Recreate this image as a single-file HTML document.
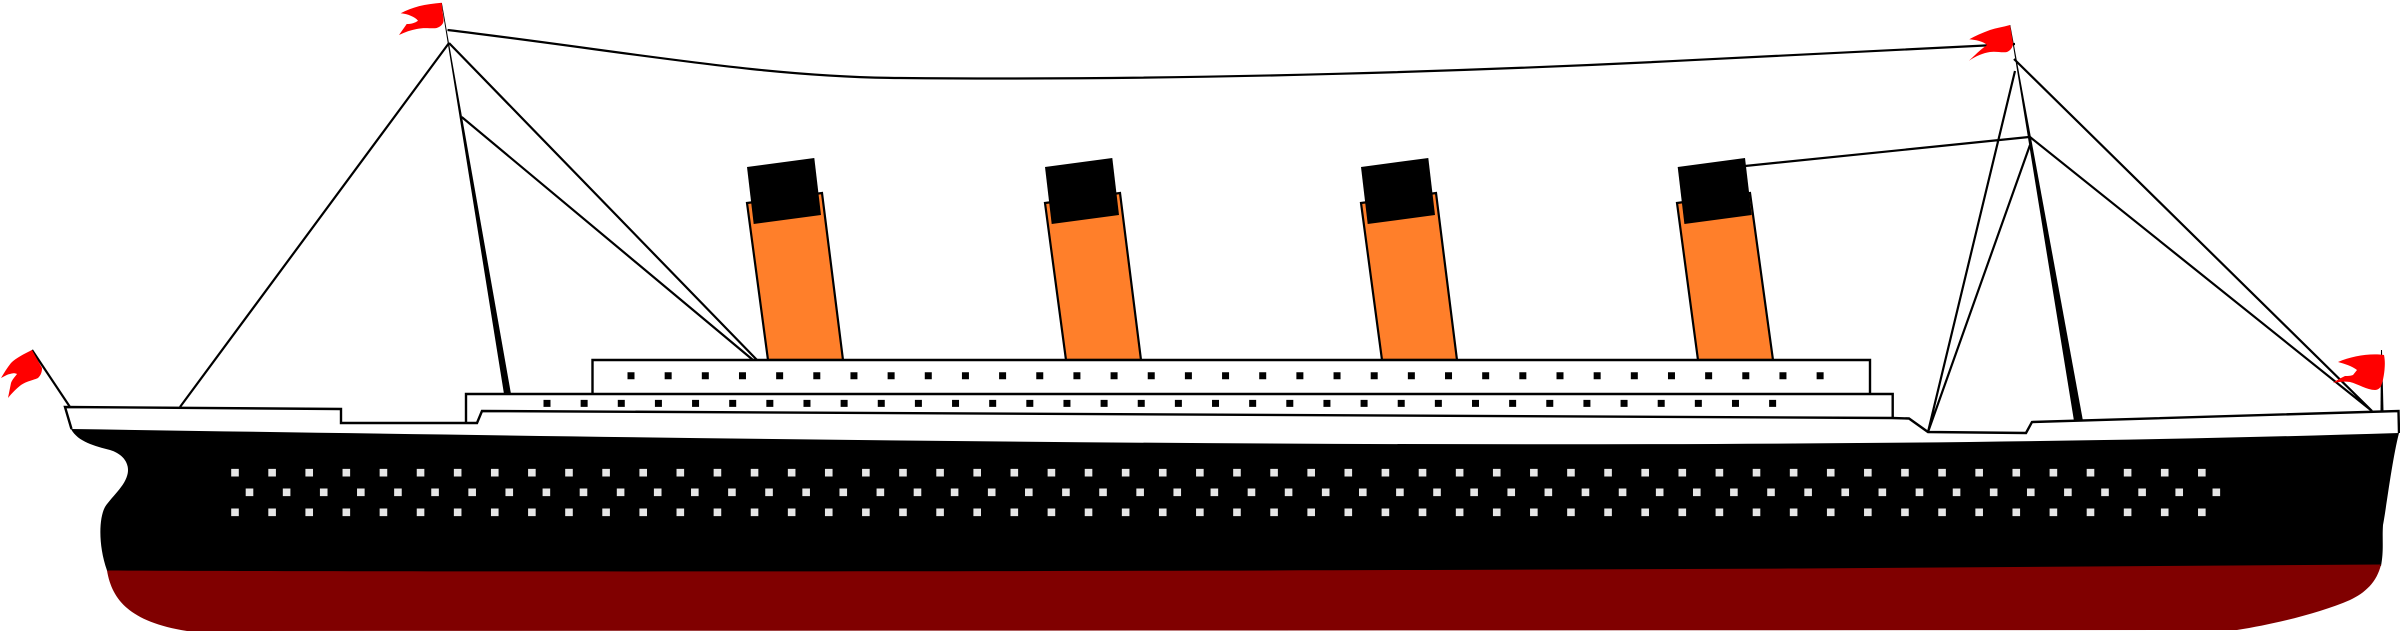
<!DOCTYPE html>
<html>
<head>
<meta charset="utf-8">
<title>Ship</title>
<style>
html,body{margin:0;padding:0;background:#fff}
svg{display:block}
</style>
</head>
<body>
<svg xmlns="http://www.w3.org/2000/svg" width="2400" height="631" viewBox="0 0 2400 631">
<rect width="2400" height="631" fill="#fff"/>

<!-- top wire -->
<path d="M447.5,30 C630,52 760,77 900,78 C1200,81 1500,70 1700,59.7 L2015,44" fill="none" stroke="#000" stroke-width="2.2"/>

<!-- aft mast and stays -->
<polygon points="441.3,3 441.9,3 511,394 504,394" fill="#000"/>
<path d="M449,43 L180,407 M449,43 L757,360 M461.7,117 L753,360" fill="none" stroke="#000" stroke-width="2.2"/>

<!-- fore mast and stays -->
<polygon points="2009.7,25 2010.3,25 2083,421 2074,421" fill="#000"/>
<path d="M1745,166 L2029,137 M2014,59 L2372,411 M2030,137 L2372,411 M2015,71 L1928,432 M2030,145 L1928,432" fill="none" stroke="#000" stroke-width="2.2"/>

<!-- bow pole -->
<polygon points="2381,350 2382,350 2383.5,411 2380.5,411" fill="#000"/>
<!-- stern pole -->
<path d="M32,350 L70,407" fill="none" stroke="#000" stroke-width="2.2"/>

<!-- funnels -->
<g fill="#ff7f2a" stroke="#000" stroke-width="2.2">
<polygon points="747,203 822,193 843,360 768,360"/>
<polygon points="1045,203 1120,193 1141,360 1066,360"/>
<polygon points="1361,203 1436,193 1457,360 1382,360"/>
<polygon points="1677,203 1750,193 1773,360 1698,360"/>
</g>
<g fill="#000">
<polygon points="747,167 814.3,158 821,215 753.7,224"/>
<polygon points="1045,167 1112.3,158 1119,215 1051.7,224"/>
<polygon points="1361,167 1428.3,158 1435,215 1367.7,224"/>
<polygon points="1677.7,167 1745,158 1751.7,215 1684.4,224"/>
</g>

<!-- superstructure -->
<path d="M592.5,394 L592.5,360 L1870,360 L1870,394" fill="#fff" stroke="#000" stroke-width="2.4"/>
<path d="M466,423 L466,394 L1892.7,394 L1892.7,418" fill="#fff" stroke="#000" stroke-width="2.4"/>
<line x1="627.5" y1="375.7" x2="1825" y2="375.7" stroke="#000" stroke-width="7" stroke-dasharray="7 30.16"/>
<line x1="543.5" y1="403.4" x2="1780" y2="403.4" stroke="#000" stroke-width="7" stroke-dasharray="7 30.14"/>

<!-- main deck strip -->
<path d="M71.5,429 L65,407 L341,409 L341,423 L477,423 L482,411 L1892,418 L1909,418.5 L1928,432 L2026,433 L2032,422 L2398.5,411 L2399,433" fill="#fff" stroke="#000" stroke-width="2.4" stroke-linejoin="miter"/>

<!-- hull -->
<path d="M71,429 C800,440 1700,455 2399,433 C2392,460 2386,510 2383,525 C2382,540 2384,550 2381,566 L2300,600 L150,600 L107,570.5 C98,545 99,518 105,507 C112,496 128,484 128,470 C128,460 120,453 110,450 C95,446 78,442 71,429 Z" fill="#000"/>
<path d="M107,570.5 C500,572 1000,572 1800,568.5 L2381,564.5 C2377,582 2365,593 2350,600 C2320,613 2275,624 2237,630 L187,631 C130,622 112,600 107,570.5 Z" fill="#800000"/>

<!-- hull windows -->
<g stroke="#e6e6e6" stroke-width="7.6" stroke-dasharray="7.6 29.51">
<line x1="231.2" y1="472.7" x2="2207" y2="472.7"/>
<line x1="245.7" y1="492.3" x2="2222" y2="492.3"/>
<line x1="231.2" y1="512.3" x2="2207" y2="512.3"/>
</g>

<!-- flags -->
<g fill="#f00">
<path d="M441.7,2.7 C425,4 412,7 400.7,13.3 C408,14 415,17 418,20.7 C415,23 411,24 406.7,24 C404,28 401,32 399,35 C405,32 411,30 416.7,29 C425,27 432,29 436.7,28 C442,26 444,23 443.5,19 C443,14 442,8 441.7,2.7 Z"/>
<path d="M2010,25 C2003,27 1996,28 1990,30 C1982,33 1975,36 1969.3,39.3 C1975,40 1983,41 1987,45 L1983,48 C1978,52 1973,57 1969,60.7 C1976,56 1983,53 1990,52 C1996,51 2002,53 2007,52 C2011,50 2013,47 2013,43 C2012,37 2011,31 2010,25 Z"/>
<path d="M32,350 C24,354 16,358 11,363 C7,368 4,373 1,378 C5,376 8,374 10,374 C13,373 15,373 17,374 C14,378 12,380 11,383 C10,388 9,393 8,398 C12,393 17,388 21,385 C27,381 34,380 38,378 C41,375 42,372 42,368 Z"/>
<path d="M2384,355 C2370,353 2352,356 2338,362 C2345,364 2352,366 2357,370 L2353,375 C2350,376 2348,376 2345,376 C2341,378 2337,380 2333,382.7 C2339,382 2345,381 2350,382 C2358,384 2367,390 2375,390 C2378,390 2380,388 2381,386 C2383,381 2384,375 2384.5,370 C2385,364 2385,360 2384,355 Z"/>
</g>
</svg>
</body>
</html>
